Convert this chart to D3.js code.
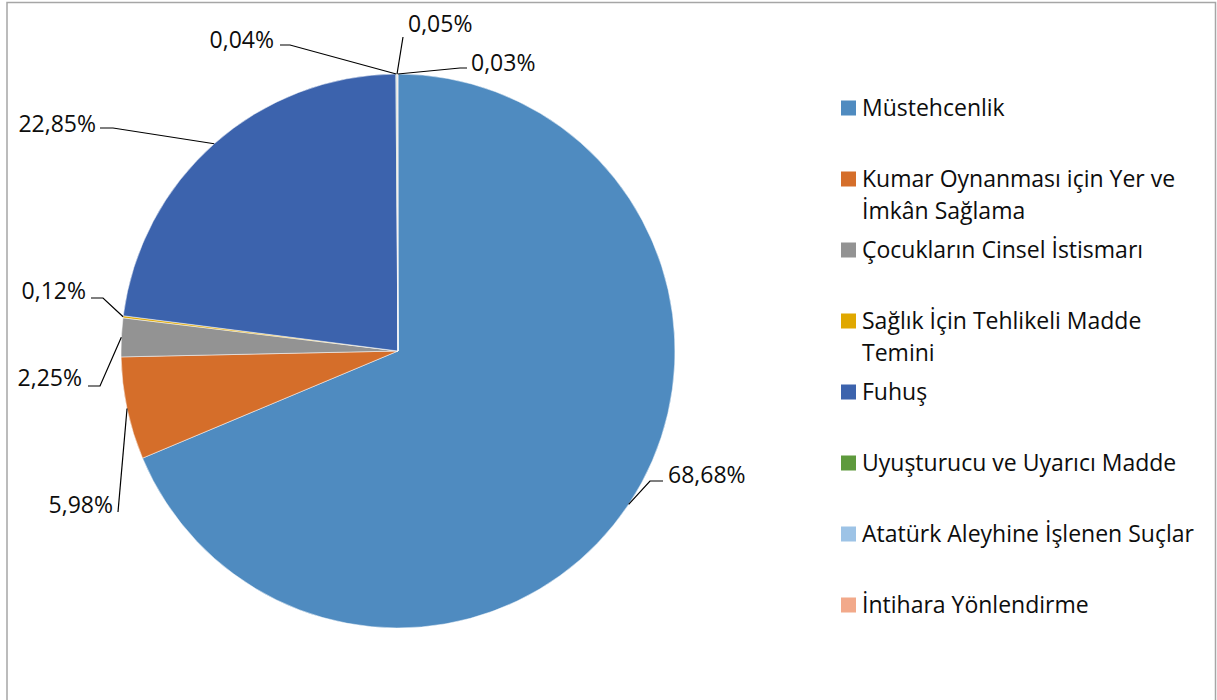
<!DOCTYPE html>
<html>
<head>
<meta charset="utf-8">
<script src="https://cdn.jsdelivr.net/npm/d3@7"></script>
<style>
  html, body { margin: 0; padding: 0; background: #fff; }
  svg { display: block; }
  text { font-family: "Open Sans", "Noto Sans", sans-serif; fill: #0d0d0d; }
</style>
</head>
<body>
<svg id="chart" width="1217" height="700"></svg>
<script>
// Suç türlerine göre dağılım (%)
const categories = [
  "Müstehcenlik",
  "Kumar Oynanması için Yer ve İmkân Sağlama",
  "Çocukların Cinsel İstismarı",
  "Sağlık İçin Tehlikeli Madde Temini",
  "Fuhuş",
  "Uyuşturucu ve Uyarıcı Madde",
  "Atatürk Aleyhine İşlenen Suçlar",
  "İntihara Yönlendirme"
];
const values = [68.68, 5.98, 2.25, 0.12, 22.85, 0.04, 0.05, 0.03];
const legendLines = [
  ["Müstehcenlik"],
  ["Kumar Oynanması için Yer ve", "İmkân Sağlama"],
  ["Çocukların Cinsel İstismarı"],
  ["Sağlık İçin Tehlikeli Madde", "Temini"],
  ["Fuhuş"],
  ["Uyuşturucu ve Uyarıcı Madde"],
  ["Atatürk Aleyhine İşlenen Suçlar"],
  ["İntihara Yönlendirme"]
];
const colors = ["#4f8bc0", "#d56e2a", "#939393", "#e0a800", "#3c63ad", "#5e9a3d", "#9dc3e6", "#f2a98a"];

const svg = d3.select("#chart");

// çerçeve
svg.append("path")
  .attr("d", "M7,720 V2.5 H1215.5 V720")
  .attr("fill", "none")
  .attr("stroke", "#a6a6a6")
  .attr("stroke-width", 1.5);

const cx = 398, cy = 351, r = 277;
const fmt = v => d3.format(".2f")(v).replace(".", ",") + "%";

const pie = d3.pie().sort(null).value(d => d);
const arcs = pie(values);
const arc = d3.arc().innerRadius(0).outerRadius(r);

const g = svg.append("g").attr("transform", `translate(${cx},${cy})`);
g.selectAll("path.slice")
  .data(arcs)
  .enter().append("path")
  .attr("class", "slice")
  .attr("d", arc)
  .attr("fill", (d, i) => colors[i])
  .attr("stroke", "#fff")
  .attr("stroke-width", 0.5);

// etiket yerleşimi: dirsek noktası, çizgi sonu, yazı konumu ve hizası
const labelLayout = [
  { elbow: [650, 481], end: [663, 481], tx: 668, ty: 483, anchor: "start" },
  { elbow: null,       end: [118, 512], tx: 113, ty: 513, anchor: "end" },
  { elbow: [100, 386], end: [88, 386],  tx: 82,  ty: 386, anchor: "end" },
  { elbow: [103, 298], end: [91, 298],  tx: 86,  ty: 299, anchor: "end" },
  { elbow: [113, 128], end: [100, 128], tx: 96,  ty: 132, anchor: "end" },
  { elbow: [290, 45],  end: [280, 45],  tx: 274, ty: 48,  anchor: "end" },
  { elbow: null,       end: [403, 37],  tx: 408, ty: 32,  anchor: "start" },
  { elbow: [460, 68],  end: [467, 68],  tx: 471, ty: 71,  anchor: "start" }
];

const labels = svg.append("g");
arcs.forEach((d, i) => {
  const mid = (d.startAngle + d.endAngle) / 2;
  const ax = cx + r * Math.sin(mid);
  const ay = cy - r * Math.cos(mid);
  const L = labelLayout[i];
  const pts = [[ax, ay]];
  if (L.elbow) pts.push(L.elbow);
  pts.push(L.end);
  labels.append("path")
    .attr("d", d3.line()(pts))
    .attr("fill", "none")
    .attr("stroke", "#000")
    .attr("stroke-width", 1.2);
  labels.append("text")
    .attr("x", L.tx)
    .attr("y", L.ty)
    .attr("text-anchor", L.anchor)
    .attr("font-size", 23)
    .text(fmt(values[i]));
});

// açıklama
const legendY = d3.scalePoint().domain(categories).range([108, 605]);
const legend = svg.append("g");
categories.forEach((c, i) => {
  const y = legendY(c);
  legend.append("rect")
    .attr("x", 841).attr("y", y - 7.5)
    .attr("width", 15).attr("height", 15)
    .attr("fill", colors[i]);
  legendLines[i].forEach((line, j) => {
    legend.append("text")
      .attr("x", 862)
      .attr("y", y + 8 + j * 32)
      .attr("font-size", 23)
      .text(line);
  });
});
</script>
</body>
</html>
